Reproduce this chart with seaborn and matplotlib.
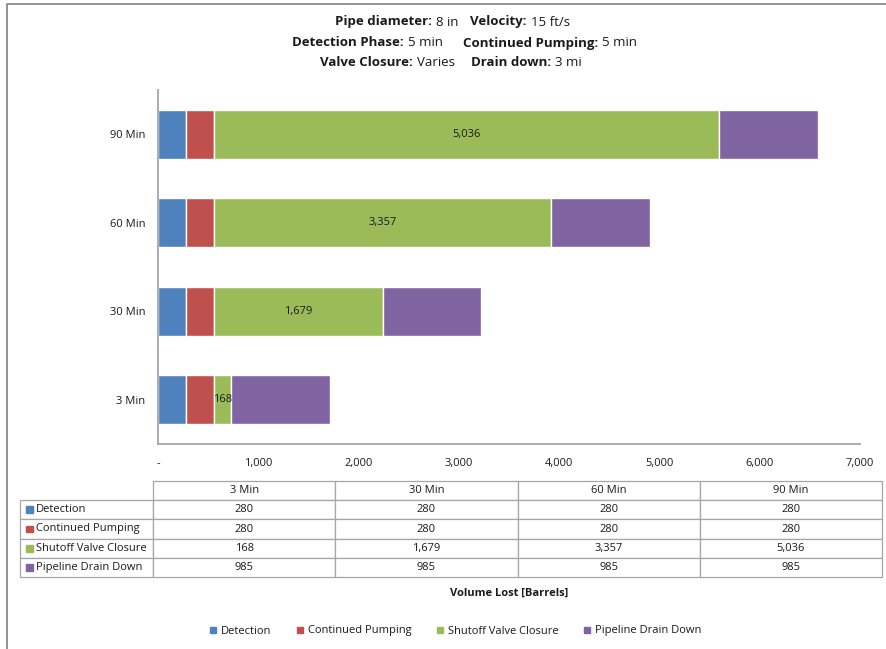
import numpy as np
import matplotlib.pyplot as plt
import seaborn as sns
from matplotlib.patches import Rectangle
from matplotlib.lines import Line2D

# data
categories = ['3 Min', '30 Min', '60 Min', '90 Min']
series = ['Detection', 'Continued Pumping', 'Shutoff Valve Closure', 'Pipeline Drain Down']
detection = [280, 280, 280, 280]
pumping = [280, 280, 280, 280]
closure = [168, 1679, 3357, 5036]
drain = [985, 985, 985, 985]
x_ticks = [0, 1000, 2000, 3000, 4000, 5000, 6000, 7000]
colors = ['#4F81BD', '#C0504D', '#9BBB59', '#8064A2']

sns.set_style('white')
plt.rcParams['font.family'] = ['Open Sans', 'DejaVu Sans']
plt.rcParams['text.color'] = '#1a1a1a'

W, H = 886, 649
fig = plt.figure(figsize=(W / 100, H / 100), dpi=100)


def fx(px):
    return px / W


def fy(py):
    return 1 - py / H


# main bar chart
ax = fig.add_axes([fx(158), fy(444), fx(860) - fx(158), fy(90) - fy(444)])
values = [detection, pumping, closure, drain]
pos = np.arange(len(categories))
left = np.zeros(len(categories))
for name, vals, col in zip(series, values, colors):
    bars = ax.barh(pos, vals, left=left, height=0.55, color=col,
                   edgecolor='white', linewidth=1, label=name)
    if name == 'Shutoff Valve Closure':
        ax.bar_label(bars, labels=[f'{v:,}' for v in vals], label_type='center',
                     fontsize=8, color='#1a1a1a')
    left += np.array(vals)

ax.set_xlim(0, 7000)
ax.set_ylim(-0.5, 3.5)
ax.set_yticks(pos)
ax.set_yticklabels(categories)
ax.set_xticks(x_ticks)
ax.set_xticklabels(['-' if v == 0 else f'{v:,}' for v in x_ticks])
ax.tick_params(length=0, labelsize=8, colors='#1a1a1a')
ax.tick_params(axis='x', pad=10)
ax.tick_params(axis='y', pad=9)
sns.despine(ax=ax)
for s in ['left', 'bottom']:
    ax.spines[s].set_color('#A6A6A6')
    ax.spines[s].set_linewidth(1.3)

# title with mixed weights
renderer = fig.canvas.get_renderer()
title_lines = [
    (22, 335, [('Pipe diameter:', True, 4), ('8 in', False, 12),
               ('Velocity:', True, 4), ('15 ft/s', False, 0)]),
    (43, 292, [('Detection Phase:', True, 4), ('5 min', False, 20),
               ('Continued Pumping:', True, 4), ('5 min', False, 0)]),
    (62, 320, [('Valve Closure:', True, 4), ('Varies', False, 16),
               ('Drain down:', True, 4), ('3 mi', False, 0)]),
]
for y, x0, parts in title_lines:
    x = x0
    for txt, bold, gap in parts:
        t = fig.text(fx(x), fy(y), txt, fontsize=9.5,
                     fontweight='bold' if bold else 'normal',
                     ha='left', va='center')
        x += t.get_window_extent(renderer).width + gap

# data table
tax = fig.add_axes([fx(20), fy(577), fx(882) - fx(20), fy(481) - fy(577)])
tax.axis('off')
cell_text = [[''] + categories]
for name, vals in zip(series, values):
    cell_text.append([name] + [f'{v:,}' for v in vals])
col_w = [133 / 862] + [182.25 / 862] * 4
tbl = tax.table(cellText=cell_text, colWidths=col_w, cellLoc='center',
                bbox=[0, 0, 1, 1])
tbl.auto_set_font_size(False)
tbl.set_fontsize(8)
for (r, c), cell in tbl.get_celld().items():
    cell.set_edgecolor('#A6A6A6')
    cell.set_linewidth(0.9)
    if c == 0:
        cell._loc = 'left'
        cell.PAD = 0.12
        cell.set_text_props(ha='left')
tbl[0, 0].visible_edges = ''

row_h = 1 / 5
for i, col in enumerate(colors):
    yc = 1 - row_h * (i + 1.5)
    tax.add_patch(Rectangle((6 / 862, yc - 0.035), 7 / 862, 0.07,
                            color=col, transform=tax.transAxes, clip_on=False))

fig.text(fx(509), fy(593), 'Volume Lost [Barrels]', fontsize=8,
         fontweight='bold', ha='center', va='center')

handles = [Line2D([], [], marker='s', linestyle='', color=c, markersize=5)
           for c in colors]
fig.legend(handles, series, loc='center', bbox_to_anchor=(fx(455), fy(631)),
           ncol=4, frameon=False, fontsize=8, handletextpad=0.3,
           columnspacing=2.2, handlelength=0.8)

# outer frame: only the top and left edges fall inside the picture
fig.add_artist(Line2D([fx(7), fx(7), 1.0], [0.0, fy(4), fy(4)],
                      transform=fig.transFigure, color='#808080',
                      linewidth=1.2))

fig.savefig('out.png', dpi=100)
